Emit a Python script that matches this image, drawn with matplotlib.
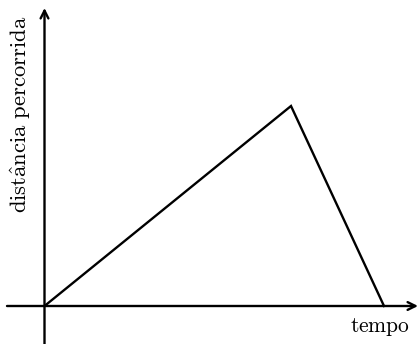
import matplotlib
matplotlib.use("Agg")
import matplotlib.pyplot as plt

# data
tempo = [0.0, 4.93, 6.79]
distancia = [0.0, 4.0, 0.0]
xlabel = "tempo"
ylabel = r"$\mathrm{dist\hat{a}ncia\ percorrida}$"

plt.rcParams['mathtext.fontset'] = 'cm'
plt.rcParams['font.family'] = ['cmr10', 'DejaVu Serif']

fig = plt.figure(figsize=(4.2, 3.44), dpi=100)
ax = fig.add_axes([0, 0, 1, 1])
ax.set_xlim(-0.89, 7.51)
ax.set_ylim(-0.76, 6.12)
ax.axis('off')

lw = 1.7
ax.annotate('', xy=(7.47, 0), xytext=(-0.75, 0),
            arrowprops=dict(arrowstyle='->', lw=lw, color='black',
                            shrinkA=0, shrinkB=0, mutation_scale=14))
ax.annotate('', xy=(0, 5.96), xytext=(0, -0.76),
            arrowprops=dict(arrowstyle='->', lw=lw, color='black',
                            shrinkA=0, shrinkB=0, mutation_scale=14))

ax.plot(tempo, distancia, color='black', lw=lw, solid_joinstyle='miter')

ax.text(6.71, -0.42, r"$\mathrm{" + xlabel + "}$", fontsize=15.5, ha='center', va='center')
ax.text(-0.48, 3.84, ylabel, fontsize=16.3, rotation=90, ha='center', va='center')

fig.savefig("out.png", dpi=100)
